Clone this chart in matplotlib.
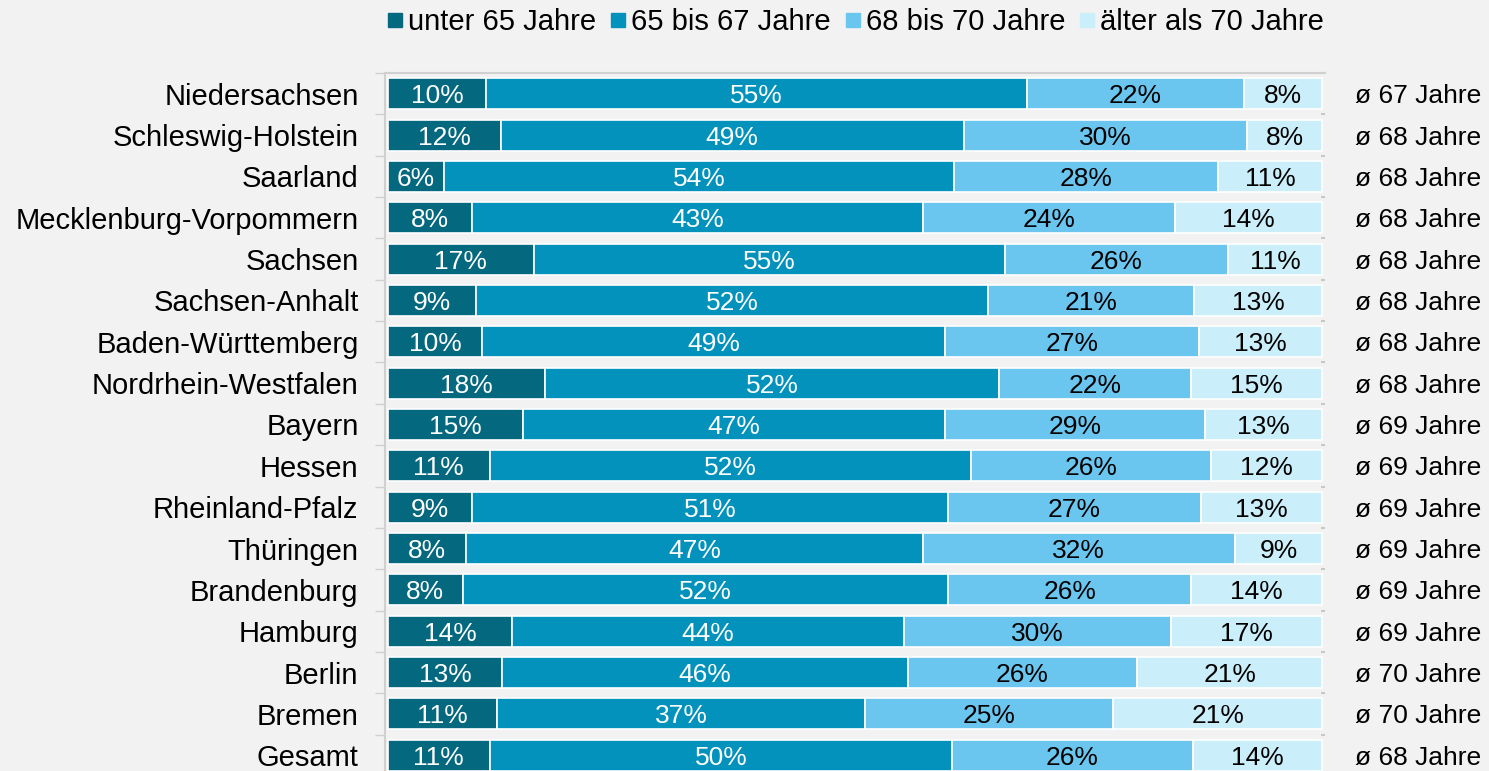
import numpy as np
import matplotlib
matplotlib.use('Agg')
import matplotlib.pyplot as plt
from matplotlib.lines import Line2D
import matplotlib.transforms as mtransforms

plt.rcParams['font.family'] = ['Liberation Sans', 'DejaVu Sans']

laender = ['Niedersachsen', 'Schleswig-Holstein', 'Saarland', 'Mecklenburg-Vorpommern',
           'Sachsen', 'Sachsen-Anhalt', 'Baden-Württemberg', 'Nordrhein-Westfalen',
           'Bayern', 'Hessen', 'Rheinland-Pfalz', 'Thüringen', 'Brandenburg',
           'Hamburg', 'Berlin', 'Bremen', 'Gesamt']
unter_65 = [10, 12, 6, 8, 17, 9, 10, 18, 15, 11, 9, 8, 8, 14, 13, 11, 11]
bis_67 = [55, 49, 54, 43, 55, 52, 49, 52, 47, 52, 51, 47, 52, 44, 46, 37, 50]
bis_70 = [22, 30, 28, 24, 26, 21, 27, 22, 29, 26, 27, 32, 26, 30, 26, 25, 26]
ueber_70 = [8, 8, 11, 14, 11, 13, 13, 15, 13, 12, 13, 9, 14, 17, 21, 21, 14]
durchschnitt = [67, 68, 68, 68, 68, 68, 68, 68, 69, 69, 69, 69, 69, 69, 70, 70, 68]

serien = ['unter 65 Jahre', '65 bis 67 Jahre', '68 bis 70 Jahre', 'älter als 70 Jahre']
farben = ['#04687f', '#0392bb', '#6bc6ef', '#cbeffa']
textfarben = ['white', 'white', 'black', 'black']

werte = np.array([unter_65, bis_67, bis_70, ueber_70], dtype=float)
anteile = werte / werte.sum(axis=0)

W, H = 1489, 771
fig = plt.figure(figsize=(W / 100, H / 100), dpi=100)
fig.patch.set_facecolor('#f2f2f2')
ax = fig.add_axes([385 / W, (771 - 776) / H, 940 / W, 703 / H])
ax.set_facecolor('#f2f2f2')

n = len(laender)
y = np.arange(n)
links = np.zeros(n)
for i in range(4):
    ax.barh(y, anteile[i], left=links, height=0.75, color=farben[i],
            edgecolor='white', linewidth=1.2, label=serien[i])
    for j in range(n):
        ax.text(links[j] + anteile[i][j] / 2, y[j], '{:d}%'.format(int(werte[i][j])),
                ha='center', va='center_baseline', color=textfarben[i], fontsize=19)
    links += anteile[i]

ax.set_xlim(-0.003, 1.003)
ax.set_ylim(n - 0.5, -0.5)
ax.set_xticks([])
ax.set_yticks(y)
ax.set_yticklabels(laender, fontsize=21, va='center_baseline')
ax.tick_params(axis='y', which='major', length=0, pad=19)
ax.set_yticks(np.arange(-0.5, n, 1), minor=True)
ax.tick_params(axis='y', which='minor', length=7, width=1, color='#d0d0d0',
               direction='out')

rechts = ax.secondary_yaxis('right')
rechts.set_yticks(np.arange(-0.5, n, 1))
rechts.set_yticklabels([])
rechts.tick_params(length=3, width=1.5, color='#c8c8c8', direction='in')
rechts.spines['right'].set_visible(False)

for s in ['left', 'top']:
    ax.spines[s].set_color('#d0d0d0')
    ax.spines[s].set_linewidth(1.5)
ax.spines['right'].set_visible(False)
ax.spines['bottom'].set_visible(False)

trans = mtransforms.blended_transform_factory(ax.transAxes, ax.transData)
for j in range(n):
    ax.text(1.032, y[j], 'ø {} Jahre'.format(durchschnitt[j]), transform=trans,
            ha='left', va='center_baseline', fontsize=19, color='black')

handles = [Line2D([], [], marker='s', linestyle='', markersize=10, color=c) for c in farben]
fig.legend(handles, serien, loc='center', bbox_to_anchor=(855 / W, 1 - 22 / H),
           ncol=4, frameon=False, fontsize=21, handletextpad=0.15,
           columnspacing=0.45, handlelength=0.6)

fig.savefig('out.png', dpi=100, facecolor=fig.get_facecolor())
